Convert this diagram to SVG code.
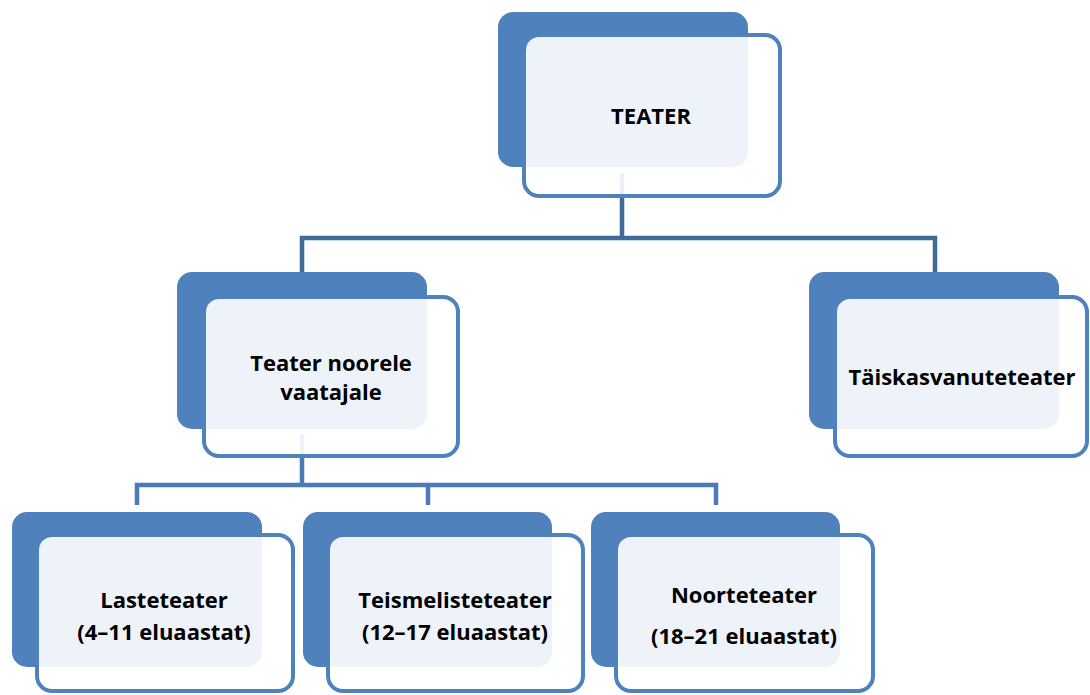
<svg xmlns="http://www.w3.org/2000/svg" width="1090" height="695" viewBox="0 0 1090 695">
<style>
.back{fill:#4f81bd}
.front{fill:#ffffff;fill-opacity:0.9;stroke:#4f81bd;stroke-width:4}
.lbl{font-family:"Open Sans","Liberation Sans",sans-serif;font-weight:bold;font-size:22px;fill:#000;text-anchor:middle}
.c1{fill:none;stroke:#3f6a9c;stroke-width:4.5}
.c2{fill:none;stroke:#4a7bb7;stroke-width:4.5}
</style>
<rect width="1090" height="695" fill="#ffffff"/>
<g id="connectors">
<path class="c1" d="M622 173 V238 M302 272 V238 H935 V272"/>
<path class="c2" d="M302 435 V485 M137 505 V485 H716 V505 M428 485 V505"/>
</g>
<g id="teater">
<rect class="back" x="498" y="12" width="250" height="155" rx="15"/>
<rect class="front" x="524" y="35" width="256" height="161" rx="15"/>
<text class="lbl" x="651" y="124">TEATER</text>
</g>
<g id="noorele">
<rect class="back" x="177" y="272" width="250" height="157" rx="15"/>
<rect class="front" x="204" y="297" width="254" height="159" rx="15"/>
<text class="lbl" x="331" y="371">Teater noorele</text>
<text class="lbl" x="331" y="400">vaatajale</text>
</g>
<g id="taiskasvanute">
<rect class="back" x="809" y="272" width="250" height="157" rx="15"/>
<rect class="front" x="835" y="297" width="252" height="159" rx="15"/>
<text class="lbl" x="962" y="385">Täiskasvanuteteater</text>
</g>
<g id="laste">
<rect class="back" x="12" y="512" width="250" height="155" rx="15"/>
<rect class="front" x="37" y="535" width="256" height="156" rx="15"/>
<text class="lbl" x="164" y="608">Lasteteater</text>
<text class="lbl" x="164" y="640">(4–11 eluaastat)</text>
</g>
<g id="teismeliste">
<rect class="back" x="303" y="512" width="249" height="155" rx="15"/>
<rect class="front" x="328" y="535" width="255" height="156" rx="15"/>
<text class="lbl" x="455" y="608">Teismelisteteater</text>
<text class="lbl" x="455" y="640">(12–17 eluaastat)</text>
</g>
<g id="noorte">
<rect class="back" x="591" y="512" width="249" height="155" rx="15"/>
<rect class="front" x="616" y="535" width="257" height="156" rx="15"/>
<text class="lbl" x="744" y="603">Noorteteater</text>
<text class="lbl" x="744" y="644">(18–21 eluaastat)</text>
</g>
</svg>
